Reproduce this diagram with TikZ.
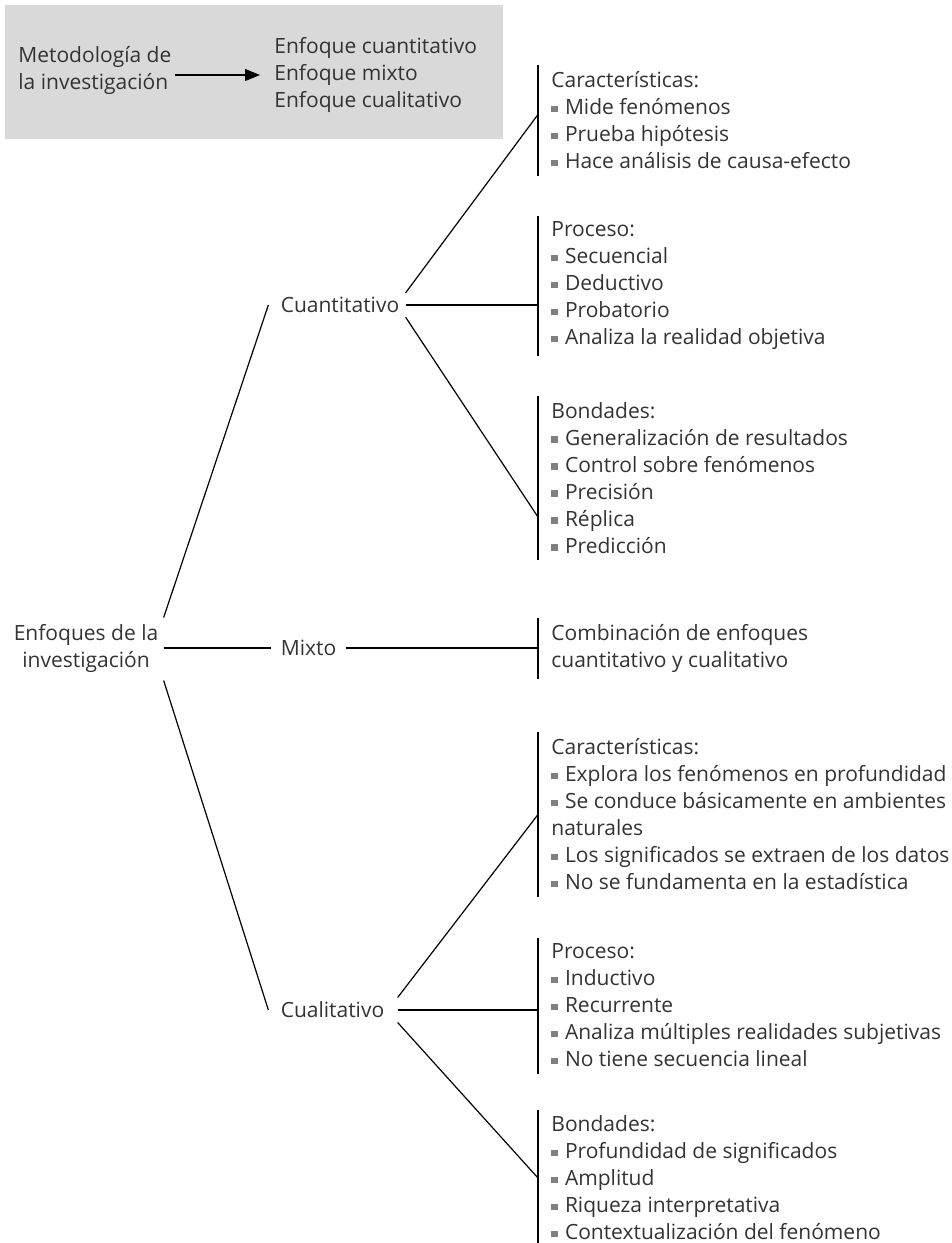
\documentclass[tikz,border=0pt]{standalone}
\usepackage{fontspec}
\setmainfont{Open Sans}
\usetikzlibrary{arrows.meta}

\definecolor{boxgray}{HTML}{D9D9D9}
\definecolor{bulletgray}{HTML}{808080}
\newcommand{\bul}{\textcolor{bulletgray}{\rule[1.3pt]{3.3pt}{3.3pt}}\hspace{3.5pt}}

\begin{document}
\begin{tikzpicture}[
        x=0.5pt, y=-0.5pt,
        every node/.style={font=\fontsize{10.5}{13.5}\selectfont, text=black!80},
        branch/.style={inner xsep=3pt, inner ysep=2pt},
        leaf/.style={anchor=west, align=left, inner xsep=6.5pt, inner ysep=3pt},
        conn/.style={line width=0.6pt}
    ]
        \useasboundingbox (0,0) rectangle (952,1243);

        % Summary box at the top
        \fill[boxgray] (5,5) rectangle (503,139);
        \node[anchor=west, align=left, inner xsep=1.5pt, inner ysep=0pt] (met) at (15,70) {Metodología de\\la investigación};
        \node[anchor=west, align=left, inner xsep=7pt, inner ysep=0pt] (enf) at (260,75) {Enfoque cuantitativo\\Enfoque mixto\\Enfoque cualitativo};
        \draw[conn, -{Triangle[length=7.5pt, width=6pt]}] (met.east |- enf.west) -- (enf.west);

        % Root and branches
        \node[align=center, inner xsep=2.5pt, inner ysep=2pt] (root) at (86,648) {Enfoques de la\\investigación};
        \node[branch] (cuant) at (340,305) {Cuantitativo};
        \node[branch, inner xsep=4.5pt] (mixto) at (308.5,648) {Mixto};
        \node[branch] (cual) at (332.5,1010) {Cualitativo};

        \draw[conn] ([yshift=1pt]root.north east) -- ([xshift=-3pt]cuant.west);
        \draw[conn] (root.east) -- (mixto.west);
        \draw[conn] ([yshift=-2pt]root.south east) -- ([xshift=-3pt]cual.west);

        % Cuantitativo
        \node[leaf] (cc) at (538,120.5) {Características:\\\bul Mide fenómenos\\\bul Prueba hipótesis\\\bul Hace análisis de causa-efecto};
        \node[leaf] (cp) at (538,286) {Proceso:\\\bul Secuencial\\\bul Deductivo\\\bul Probatorio\\\bul Analiza la realidad objetiva};
        \node[leaf] (cb) at (538,478) {Bondades:\\\bul Generalización de resultados\\\bul Control sobre fenómenos\\\bul Precisión\\\bul Réplica\\\bul Predicción};
        \draw[conn] (cc.north west) -- (cc.south west);
        \draw[conn] (cp.north west) -- (cp.south west);
        \draw[conn] (cb.north west) -- (cb.south west);
        \draw[conn] (cuant.north east) -- ([yshift=3pt]cc.west);
        \draw[conn] (cuant.east) -- (cuant.east -| cp.west);
        \draw[conn] (cuant.south east) -- ([yshift=-19.5pt]cb.west);

        % Mixto
        \node[leaf] (mx) at (538,648.5) {Combinación de enfoques\\cuantitativo y cualitativo};
        \draw[conn] (mx.north west) -- (mx.south west);
        \draw[conn] (mixto.east) -- (mixto.east -| mx.west);

        % Cualitativo
        \node[leaf] (qc) at (538,814.5) {Características:\\\bul Explora los fenómenos en profundidad\\\bul Se conduce básicamente en ambientes\\naturales\\\bul Los significados se extraen de los datos\\\bul No se fundamenta en la estadística};
        \node[leaf] (qp) at (538,1005.5) {Proceso:\\\bul Inductivo\\\bul Recurrente\\\bul Analiza múltiples realidades subjetivas\\\bul No tiene secuencia lineal};
        \node[leaf] (qb) at (538,1178) {Bondades:\\\bul Profundidad de significados\\\bul Amplitud\\\bul Riqueza interpretativa\\\bul Contextualización del fenómeno};
        \draw[conn] (qc.north west) -- (qc.south west);
        \draw[conn] (qp.north west) -- (qp.south west);
        \draw[conn] (qb.north west) -- (qb.south west);
        \draw[conn] ([xshift=3.5pt]cual.north east) -- (qc.west);
        \draw[conn] ([xshift=3.5pt]cual.east) -- (cual.east -| qp.west);
        \draw[conn] ([xshift=3.5pt]cual.south east) -- (qb.west);

    \end{tikzpicture}
\end{document}
